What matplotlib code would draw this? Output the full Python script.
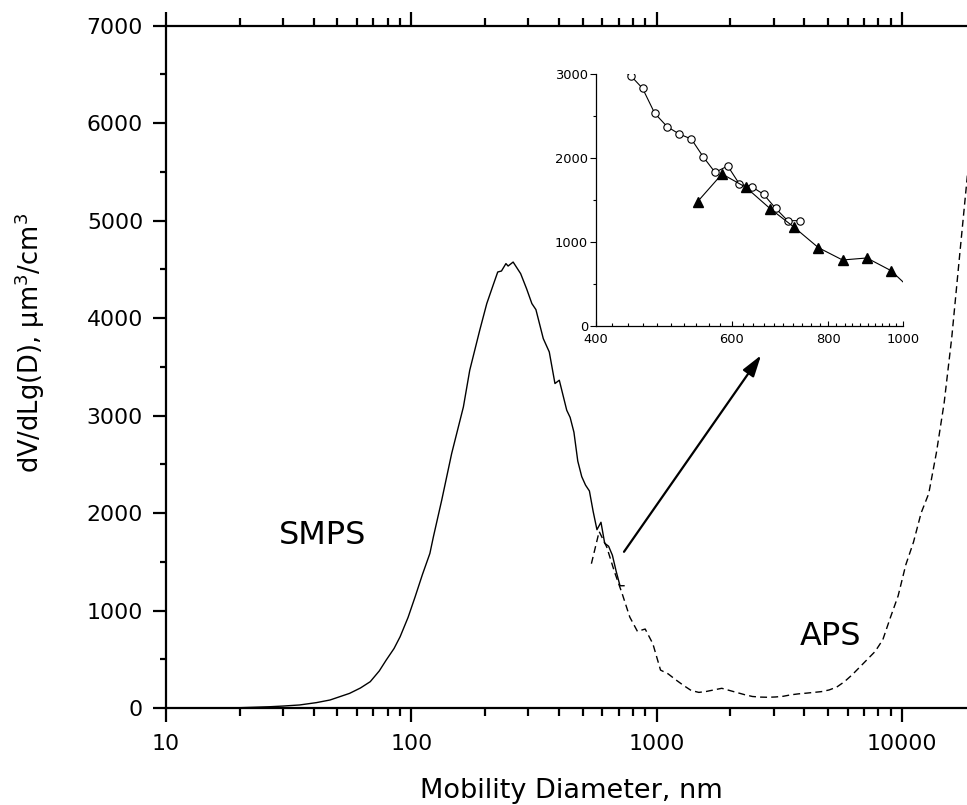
import matplotlib
matplotlib.use("Agg")
import matplotlib.pyplot as plt
from matplotlib.ticker import FixedLocator, NullFormatter, LogLocator

plt.rcParams["mathtext.default"] = "regular"

# SMPS size distribution (mobility diameter nm, dV/dlogD um^3/cm^3)
smps_d = [14.1, 16, 20, 26.5, 30, 35, 41, 46.6, 56, 62, 68, 74, 79, 85, 90, 97,
          103.5, 111, 119, 123, 133, 146, 163, 173, 190, 203, 215, 225, 233, 243,
          248, 260, 279, 295, 310, 322, 345, 365, 385, 401, 430,
          444, 460, 477, 495, 513, 532, 551, 571, 593, 614, 637, 660, 684, 709, 736]
smps_v = [0, 1, 3, 13, 20, 31, 55, 82, 150, 205, 270, 380, 492, 610, 731, 930,
          1137, 1370, 1585, 1756, 2132, 2610, 3088, 3464, 3874, 4148, 4330, 4472, 4482, 4558,
          4533, 4574, 4455, 4300, 4148, 4086, 3789, 3652, 3328, 3362, 3054,
          2980, 2829, 2532, 2373, 2286, 2226, 2016, 1829, 1905, 1690, 1659, 1567, 1401, 1254, 1254]

# APS size distribution
aps_d = [542, 583, 626, 673, 723, 777, 835, 898, 965, 1037, 1114, 1197, 1286, 1382,
         1486, 1596, 1715, 1843, 1981, 2129, 2288, 2458, 2642, 2839, 3051, 3278, 3523,
         3786, 4068, 4371, 4698, 5048, 5425, 5829, 6264, 6732, 7234, 7774, 8354, 8977,
         9647, 10370, 11140, 11970, 12860, 13820, 14860, 15960, 17150, 18430, 19810]
aps_v = [1480, 1810, 1651, 1397, 1175, 933, 786, 810, 659, 389, 350, 289, 232, 180,
         160, 170, 186, 202, 180, 158, 136, 118, 112, 110, 113, 120, 135,
         145, 152, 160, 168, 185, 215, 270, 340, 420, 500, 580, 700, 930,
         1150, 1470, 1700, 2000, 2200, 2620, 3130, 3800, 4620, 5430, 6300]

# arrow from end of SMPS to the inset
arrow_from = (736, 1602)
arrow_to = (2665, 3618)

fig = plt.figure(figsize=(9.67, 8.05), dpi=100)
ax = fig.add_axes([0.1717, 0.1205, 0.8374, 0.8478])

ax.plot(smps_d, smps_v, color="black", lw=1.0)
ax.plot(aps_d, aps_v, color="black", lw=1.0, dashes=(5, 3))

ax.set_xscale("log")
ax.set_xlim(10, 20000)
ax.set_ylim(0, 7000)
ax.set_xticks([10, 100, 1000, 10000])
ax.set_xticklabels(["10", "100", "1000", "10000"])
ax.xaxis.set_minor_locator(LogLocator(base=10, subs=range(2, 10)))
ax.xaxis.set_minor_formatter(NullFormatter())
ax.set_yticks(range(0, 7001, 1000))
ax.yaxis.set_minor_locator(FixedLocator(range(500, 7000, 1000)))

for side in ["right"]:
    ax.spines[side].set_visible(False)
for side in ["left", "bottom", "top"]:
    ax.spines[side].set_linewidth(1.6)

ax.tick_params(axis="x", which="both", direction="out", top=True, labeltop=False,
               width=1.6, labelsize=15.8, pad=9)
ax.tick_params(axis="x", which="major", length=10)
ax.tick_params(axis="x", which="minor", length=5.5)
ax.tick_params(axis="y", which="both", direction="out", right=False, width=1.6,
               labelsize=15.8, pad=7)
ax.tick_params(axis="y", which="major", length=9.5)
ax.tick_params(axis="y", which="minor", length=4.5)

ax.set_xlabel("Mobility Diameter, nm", fontsize=19.5)
ax.xaxis.set_label_coords(0.5, -0.1026)
ax.set_ylabel("dV/dLg(D), μm$^3$/cm$^3$", fontsize=18.5, va="center")
ax.yaxis.set_label_coords(-0.168, 0.535)

ax.text(43.3, 1773, "SMPS", fontsize=23, ha="center", va="center")
ax.text(5130, 731, "APS", fontsize=23, ha="center", va="center")

ax.annotate("", xy=arrow_to, xytext=arrow_from,
            arrowprops=dict(arrowstyle="-|>,head_length=0.65,head_width=0.2",
                            color="black", lw=1.6, shrinkA=0, shrinkB=0,
                            mutation_scale=20))

# inset zoom of the overlap region
axi = fig.add_axes([0.6160, 0.5950, 0.3178, 0.3131])
axi.plot(smps_d, smps_v, color="black", lw=0.8, marker="o", markersize=5.3,
         markerfacecolor="white", markeredgecolor="black", markeredgewidth=0.8)
axi.plot(aps_d, aps_v, color="black", lw=0.8, marker="^", markersize=7.2,
         markerfacecolor="black", markeredgecolor="black")
axi.set_xscale("log")
axi.set_xlim(400, 1000)
axi.set_ylim(0, 3000)
axi.set_xticks([400, 600, 800, 1000])
axi.set_xticklabels(["400", "600", "800", "1000"])
axi.xaxis.set_minor_locator(FixedLocator([v for v in range(420, 1000, 20) if v % 200]))
axi.xaxis.set_minor_formatter(NullFormatter())
axi.set_yticks([0, 1000, 2000, 3000])
axi.set_yticklabels(["0", "1000", "2000", "3000"])
axi.yaxis.set_minor_locator(FixedLocator([500, 1500, 2500]))
for side in ["top", "right"]:
    axi.spines[side].set_visible(False)
for side in ["left", "bottom"]:
    axi.spines[side].set_linewidth(0.9)
axi.tick_params(axis="x", which="both", direction="in", width=0.8, labelsize=9.4, pad=5)
axi.tick_params(axis="x", which="major", length=3.5)
axi.tick_params(axis="x", which="minor", length=2)
axi.tick_params(axis="y", which="both", direction="out", width=0.8, labelsize=9.4, pad=1.5)
axi.tick_params(axis="y", which="major", length=4)
axi.tick_params(axis="y", which="minor", length=2.5)

fig.savefig("out.png", dpi=100)
